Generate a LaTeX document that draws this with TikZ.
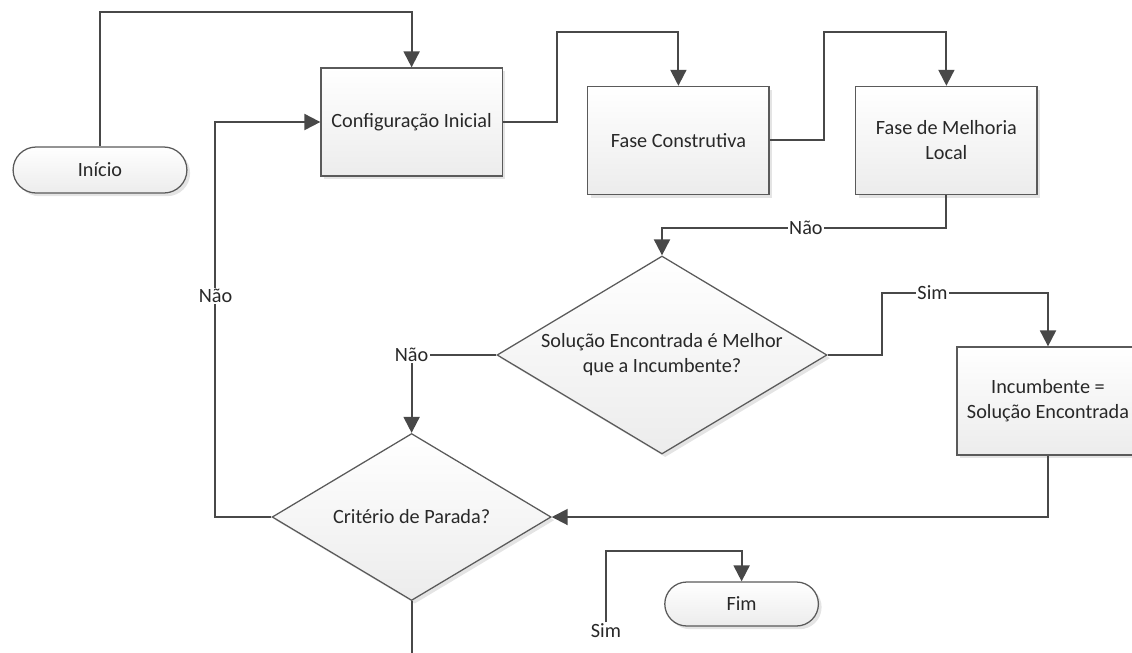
\documentclass[tikz,border=0pt]{standalone}
\usepackage{fontspec}
\setmainfont{Carlito}
\usepackage{tikz}
\usetikzlibrary{positioning, shapes.geometric, shapes.misc, arrows.meta, shadows}
\definecolor{linegray}{RGB}{72,72,72}
\definecolor{edgegray}{RGB}{90,90,90}
\definecolor{fillgray}{RGB}{236,236,236}
\definecolor{textgray}{RGB}{40,40,40}

\begin{document}
\begin{tikzpicture}[
  font=\fontsize{14.4pt}{17.7pt}\selectfont, text=textgray,
  base/.style={draw=edgegray, line width=0.9pt, top color=white, bottom color=fillgray,
               drop shadow={shadow xshift=0.08cm, shadow yshift=-0.08cm,
                            fill=black!30, opacity=0.35}},
  box/.style={base, rectangle, minimum width=4.53cm, minimum height=2.7cm,
              align=center, inner sep=2pt},
  term/.style={base, rounded rectangle, minimum width=4.58cm, minimum height=1.15cm},
  decision/.style={base, diamond, shape aspect=1.667, inner sep=0pt, align=center},
  lbl/.style={fill=white, inner sep=1pt},
  line/.style={draw=linegray, line width=1.4pt},
  arr/.style={line, -{Triangle[length=0.4cm, width=0.4cm]}}
]
  \useasboundingbox (0,0) rectangle (28.3,-16.3);
  \clip (0,0) rectangle (28.3,-16.3);

  \node[term] (ini) at (2.5,-4.25) {Início};
  \node[box] (cfg) at (10.29,-3.05) {Configuração Inicial};
  \node[box] (cst) at (16.96,-3.51) {Fase Construtiva};
  \node[box] (mel) at (23.66,-3.51) {Fase de Melhoria\\Local};
  \node[decision, minimum width=8.25cm, minimum height=4.95cm] (sol) at (16.55,-8.875)
       {Solução Encontrada é Melhor\\que a Incumbente?};
  \node[box, minimum width=4.55cm] (inc) at (26.2,-10.025) {Incumbente =\\Solução Encontrada};
  \node[decision, minimum width=6.975cm, minimum height=4.175cm] (crit) at (10.29,-12.925)
       {Critério de Parada?};
  \node[term, minimum width=4.075cm, minimum height=1.1cm] (fim) at (18.54,-15.1) {Fim};
  \node[lbl] (sim) at (15.15,-15.775) {Sim};
  \coordinate (fimturn) at (15.15,-13.775);
  \coordinate (critout) at (10.29,-16.8);

  \draw[arr] (ini.north) -- ++(0,3.35) -| (cfg.north);
  \draw[arr] (cfg.east) -- ++(1.35,0) -- ++(0,2.25) -| (cst.north);
  \draw[arr] (cst.east) -- ++(1.35,0) -- ++(0,2.71) -| (mel.north);
  \draw[arr] (mel.south) -- ++(0,-0.825) -| node[lbl, pos=0.247] {Não} (sol.north);
  \draw[arr] (sol.east) -- ++(1.35,0) -- ++(0,1.55) -| node[lbl, pos=0.153] {Sim} (inc.north);
  \draw[arr] (sol.west) -| node[lbl] {Não} (crit.north);
  \draw[arr] (inc.south) |- (crit.east);
  \draw[arr] (crit.west) -- ++(-1.4,0) |- node[lbl, pos=0.28] {Não} (cfg.west);
  \draw[line] (crit.south) -- (critout);
  \draw[arr] (sim) -- (fimturn) -| (fim.north);
\end{tikzpicture}
\end{document}
